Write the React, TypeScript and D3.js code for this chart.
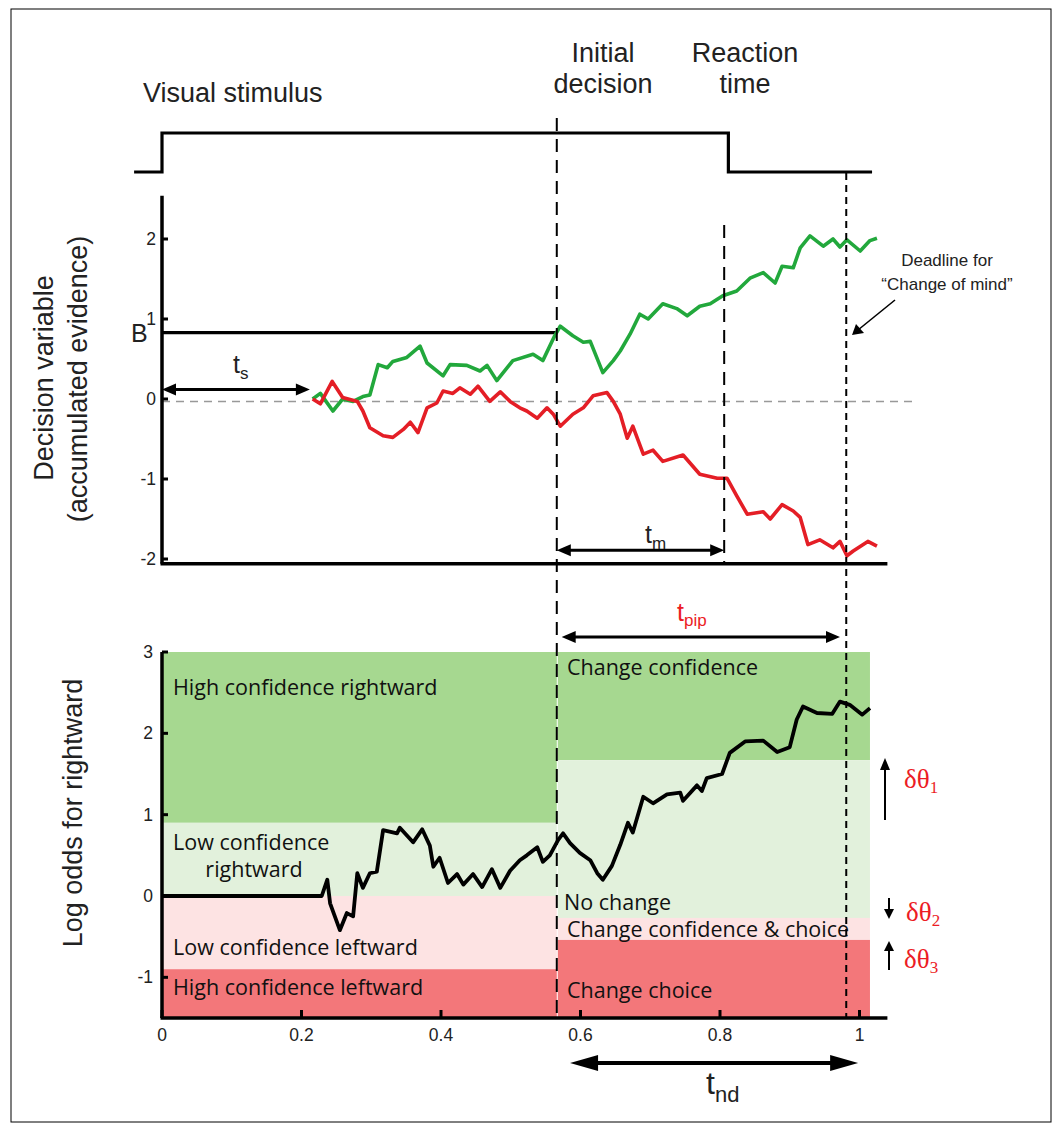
import React from "react";
import * as d3 from "d3";

// ---------- data ----------
const greenTrace: [number, number][] = [
  [0.216, 0], [0.227, 0.07], [0.245, -0.15], [0.259, 0.0], [0.274, -0.03], [0.288, 0.03], [0.298, 0.05],
  [0.31, 0.43], [0.323, 0.39], [0.331, 0.47], [0.351, 0.52], [0.37, 0.66], [0.38, 0.45], [0.403, 0.29],
  [0.413, 0.43], [0.437, 0.42], [0.456, 0.35], [0.466, 0.42], [0.48, 0.23], [0.503, 0.48], [0.532, 0.56],
  [0.546, 0.48], [0.563, 0.79], [0.571, 0.91], [0.589, 0.79], [0.604, 0.71], [0.614, 0.72], [0.632, 0.33],
  [0.647, 0.48], [0.657, 0.6], [0.671, 0.81], [0.685, 1.06], [0.697, 1.0], [0.718, 1.19], [0.738, 1.13],
  [0.753, 1.04], [0.771, 1.16], [0.786, 1.19], [0.804, 1.29], [0.824, 1.35], [0.843, 1.51], [0.862, 1.58],
  [0.879, 1.45], [0.889, 1.66], [0.905, 1.64], [0.915, 1.89], [0.929, 2.04], [0.948, 1.91], [0.962, 2.0],
  [0.972, 1.9], [0.982, 1.99], [1.001, 1.85], [1.015, 1.98], [1.025, 2.01],
];

const redTrace: [number, number][] = [
  [0.216, 0], [0.227, -0.06], [0.244, 0.22], [0.259, 0.02], [0.28, -0.03], [0.288, -0.15], [0.298, -0.36],
  [0.317, -0.46], [0.331, -0.48], [0.346, -0.38], [0.356, -0.29], [0.367, -0.42], [0.38, -0.11], [0.394, -0.05],
  [0.403, 0.1], [0.417, 0.07], [0.427, 0.14], [0.442, 0.06], [0.453, 0.16], [0.47, -0.03], [0.485, 0.09],
  [0.499, -0.03], [0.513, -0.11], [0.523, -0.15], [0.538, -0.24], [0.552, -0.11], [0.561, -0.19], [0.571, -0.34],
  [0.589, -0.19], [0.604, -0.11], [0.618, 0.04], [0.638, 0.08], [0.647, -0.03], [0.657, -0.19], [0.667, -0.49],
  [0.675, -0.34], [0.69, -0.69], [0.704, -0.64], [0.718, -0.78], [0.747, -0.7], [0.771, -0.94], [0.796, -0.99],
  [0.81, -0.99], [0.824, -1.21], [0.839, -1.44], [0.862, -1.41], [0.872, -1.5], [0.889, -1.32], [0.905, -1.4],
  [0.915, -1.48], [0.926, -1.82], [0.943, -1.76], [0.962, -1.86], [0.972, -1.78], [0.982, -1.96], [0.991, -1.9],
  [1.012, -1.78], [1.025, -1.84],
];

const logOddsTrace: [number, number][] = [
  [0, 0], [0.229, 0], [0.237, 0.2], [0.241, -0.09], [0.255, -0.42], [0.265, -0.21], [0.274, -0.25], [0.28, 0.28],
  [0.288, 0.1], [0.298, 0.28], [0.308, 0.3], [0.317, 0.81], [0.337, 0.77], [0.341, 0.84], [0.36, 0.66],
  [0.373, 0.82], [0.384, 0.62], [0.389, 0.36], [0.398, 0.47], [0.41, 0.16], [0.423, 0.27], [0.432, 0.14],
  [0.446, 0.27], [0.459, 0.11], [0.473, 0.33], [0.485, 0.1], [0.499, 0.31], [0.513, 0.44], [0.523, 0.5],
  [0.538, 0.6], [0.546, 0.42], [0.556, 0.5], [0.568, 0.69], [0.575, 0.77], [0.585, 0.65], [0.599, 0.53],
  [0.614, 0.44], [0.624, 0.28], [0.632, 0.2], [0.645, 0.37], [0.657, 0.63], [0.668, 0.9], [0.675, 0.78],
  [0.69, 1.22], [0.704, 1.14], [0.724, 1.25], [0.743, 1.27], [0.747, 1.17], [0.767, 1.36], [0.774, 1.29],
  [0.781, 1.45], [0.803, 1.5], [0.814, 1.76], [0.836, 1.9], [0.862, 1.91], [0.882, 1.77], [0.9, 1.83],
  [0.91, 2.17], [0.919, 2.33], [0.939, 2.25], [0.961, 2.24], [0.972, 2.39], [0.986, 2.35], [1.004, 2.23],
  [1.015, 2.31],
];

// stimulus trace (time, level 0/1)
const stimulus: [number, number][] = [[-0.04, 0], [0, 0], [0, 1], [0.812, 1], [0.812, 0], [1.018, 0]];

const topTicks = [-2, -1, 0, 1, 2];
const bottomYTicks = [-1, 0, 1, 2, 3];
const bottomXTicks = [0, 0.2, 0.4, 0.6, 0.8, 1];
const bottomXTickLabels = ["0", "0.2", "0.4", "0.6", "0.8", "1"];

const boundB = 0.83;
const tInitial = 0.566;
const tReaction = 0.806;
const tDeadline = 0.981;
const tEnd = 1.015;

const leftBands = [
  { lo: 0.9, hi: 3, fill: "#a6d890" },
  { lo: 0, hi: 0.9, fill: "#e2f1dc" },
  { lo: -0.9, hi: 0, fill: "#fde3e3" },
  { lo: -1.5, hi: -0.9, fill: "#f3777a" },
];
const rightBands = [
  { lo: 1.67, hi: 3, fill: "#a6d890" },
  { lo: -0.27, hi: 1.67, fill: "#e2f1dc" },
  { lo: -0.54, hi: -0.27, fill: "#fde3e3" },
  { lo: -1.5, hi: -0.54, fill: "#f3777a" },
];

const ARIAL = "'Liberation Sans', Arial, sans-serif";
const HUM = "'Open Sans', 'Noto Sans', sans-serif";
const SERIF = "'Liberation Serif', 'Times New Roman', serif";
const RED = "#ec1c24";

function DoubleArrow({ x1, x2, y, hl = 14, hw = 6, sw = 3 }: any) {
  return (
    <g>
      <line x1={x1 + hl - 1} x2={x2 - hl + 1} y1={y} y2={y} stroke="#000" strokeWidth={sw} />
      <polygon points={`${x1},${y} ${x1 + hl},${y - hw} ${x1 + hl},${y + hw}`} fill="#000" />
      <polygon points={`${x2},${y} ${x2 - hl},${y - hw} ${x2 - hl},${y + hw}`} fill="#000" />
    </g>
  );
}

export default function App() {
  const x = d3.scaleLinear().domain([0, 1]).range([162, 859.5]);
  const y1 = d3.scaleLinear().domain([-2.06, 2.54]).range([563.8, 195.8]);
  const y2 = d3.scaleLinear().domain([-1.5, 3]).range([1018, 652]);
  const yStim = d3.scaleLinear().domain([0, 1]).range([172, 133]);

  const line1 = d3.line<[number, number]>().x((d) => x(d[0])).y((d) => y1(d[1]));
  const line2 = d3.line<[number, number]>().x((d) => x(d[0])).y((d) => y2(d[1]));
  const lineS = d3.line<[number, number]>().x((d) => x(d[0])).y((d) => yStim(d[1]));

  const x0 = x(0);
  const xInit = x(tInitial);
  const xEnd = x(tEnd);

  return (
    <svg width={1060} height={1131} style={{ position: "absolute", left: 0, top: 0, background: "#fff" }}>
      <rect x={11} y={9} width={1040} height={1113} fill="none" stroke="#000" strokeWidth={1} />

      {/* ---------- header labels ---------- */}
      <text x={143} y={102} fontFamily={ARIAL} fontSize={27} fill="#222">Visual stimulus</text>
      <text x={603} y={62} fontFamily={ARIAL} fontSize={27} fill="#222" textAnchor="middle">Initial</text>
      <text x={603} y={93} fontFamily={ARIAL} fontSize={27} fill="#222" textAnchor="middle">decision</text>
      <text x={745} y={62} fontFamily={ARIAL} fontSize={27} fill="#222" textAnchor="middle">Reaction</text>
      <text x={745} y={93} fontFamily={ARIAL} fontSize={27} fill="#222" textAnchor="middle">time</text>

      {/* stimulus trace */}
      <path d={lineS(stimulus) || ""} fill="none" stroke="#000" strokeWidth={3.2} />

      {/* ---------- bottom panel bands ---------- */}
      {leftBands.map((b, i) => (
        <rect key={"l" + i} x={x0} y={y2(b.hi)} width={xInit - x0} height={y2(b.lo) - y2(b.hi)} fill={b.fill} />
      ))}
      {rightBands.map((b, i) => (
        <rect key={"r" + i} x={xInit + 1} y={y2(b.hi)} width={xEnd - xInit - 1} height={y2(b.lo) - y2(b.hi)} fill={b.fill} />
      ))}

      {/* band labels */}
      <g fontFamily={HUM} fontSize={21.5} fill="#111">
        <text x={173} y={695}>High confidence rightward</text>
        <text x={173} y={850}>Low confidence</text>
        <text x={254} y={877} textAnchor="middle">rightward</text>
        <text x={173} y={955}>Low confidence leftward</text>
        <text x={173} y={995}>High confidence leftward</text>
        <text x={567} y={675}>Change confidence</text>
        <text x={564} y={910}>No change</text>
        <text x={567} y={937}>Change confidence &amp; choice</text>
        <text x={567} y={998}>Change choice</text>
      </g>

      {/* ---------- top panel ---------- */}
      <line x1={x0} x2={x(1.08)} y1={y1(-0.03)} y2={y1(-0.03)} stroke="#999" strokeWidth={1.5} strokeDasharray="8,6" />
      <line x1={x0} x2={xInit} y1={y1(boundB)} y2={y1(boundB)} stroke="#000" strokeWidth={3.2} />
      <text x={131} y={342} fontFamily={ARIAL} fontSize={25} fill="#222">B</text>

      <path d={line1(greenTrace) || ""} fill="none" stroke="#22a83c" strokeWidth={3.6} strokeLinejoin="round" />
      <path d={line1(redTrace) || ""} fill="none" stroke="#e41e26" strokeWidth={3.6} strokeLinejoin="round" />

      <line x1={x0} x2={x0} y1={y1(2.54)} y2={y1(-2.06)} stroke="#000" strokeWidth={3.5} />
      <line x1={x0 - 1.5} x2={x(1.04)} y1={y1(-2.06)} y2={y1(-2.06)} stroke="#000" strokeWidth={3.5} />
      {topTicks.map((t) => (
        <g key={"tt" + t}>
          <line x1={x0} x2={x0 + 6} y1={y1(t)} y2={y1(t)} stroke="#000" strokeWidth={3} />
          <text x={x0 - 6} y={y1(t) + 6} fontFamily={ARIAL} fontSize={17.5} fill="#222" textAnchor="end">{t}</text>
        </g>
      ))}
      <text transform="translate(53,378) rotate(-90)" fontFamily={ARIAL} fontSize={27} fill="#222" textAnchor="middle">Decision variable</text>
      <text transform="translate(87,379) rotate(-90)" fontFamily={ARIAL} fontSize={27} fill="#222" textAnchor="middle">(accumulated evidence)</text>

      {/* t_s */}
      <DoubleArrow x1={x0} x2={x(0.212)} y={y1(0.12)} />
      <text x={233} y={373} fontFamily={ARIAL} fontSize={25} fill="#222">t<tspan fontSize={17} dy={6}>s</tspan></text>

      {/* t_m */}
      <DoubleArrow x1={xInit} x2={x(tReaction)} y={y1(-1.89)} />
      <text x={645} y={543} fontFamily={ARIAL} fontSize={25} fill="#222">t<tspan fontSize={17} dy={6}>m</tspan></text>

      {/* deadline note */}
      <text x={947} y={266} fontFamily={ARIAL} fontSize={17} fill="#222" textAnchor="middle">Deadline for</text>
      <text x={947} y={290} fontFamily={ARIAL} fontSize={17} fill="#222" textAnchor="middle">“Change of mind”</text>
      <line x1={895} y1={300} x2={858} y2={330} stroke="#000" strokeWidth={1.6} />
      <polygon points="852,335 856,324 864,333" fill="#000" />

      {/* t_pip */}
      <DoubleArrow x1={x(0.573)} x2={x(0.972)} y={637} />
      <text x={677} y={621} fontFamily={ARIAL} fontSize={25} fill={RED}>t<tspan fontSize={17} dy={5}>pip</tspan></text>

      {/* ---------- bottom panel trace & axes ---------- */}
      <path d={line2(logOddsTrace) || ""} fill="none" stroke="#000" strokeWidth={3.8} strokeLinejoin="round" />
      <line x1={x0} x2={x0} y1={y2(3)} y2={y2(-1.5)} stroke="#000" strokeWidth={3.5} />
      <line x1={x0 - 1.5} x2={x(1.04)} y1={y2(-1.5)} y2={y2(-1.5)} stroke="#000" strokeWidth={3.5} />
      {bottomYTicks.map((t) => (
        <g key={"by" + t}>
          <line x1={x0} x2={x0 + 6} y1={y2(t)} y2={y2(t)} stroke="#000" strokeWidth={3} />
          <text x={x0 - 9} y={y2(t) + 6} fontFamily={ARIAL} fontSize={17.5} fill="#222" textAnchor="end">{t}</text>
        </g>
      ))}
      {bottomXTicks.map((t, i) => (
        <g key={"bx" + t}>
          <line x1={x(t)} x2={x(t)} y1={y2(-1.5)} y2={y2(-1.5) - 8} stroke="#000" strokeWidth={3} />
          <text x={x(t)} y={1041} fontFamily={ARIAL} fontSize={17.5} fill="#222" textAnchor="middle">{bottomXTickLabels[i]}</text>
        </g>
      ))}
      <text transform="translate(82,813) rotate(-90)" fontFamily={ARIAL} fontSize={27} fill="#222" textAnchor="middle">Log odds for rightward</text>

      {/* delta thetas */}
      <line x1={885} x2={885} y1={820} y2={766} stroke="#000" strokeWidth={2} />
      <polygon points="885,758 880,770 890,770" fill="#000" />
      <text x={904} y={788} fontFamily={SERIF} fontSize={27} fill={RED}>δθ<tspan fontSize={17} dy={5}>1</tspan></text>
      <line x1={889} x2={889} y1={898} y2={912} stroke="#000" strokeWidth={2} />
      <polygon points="889,919 884,909 894,909" fill="#000" />
      <text x={906} y={921} fontFamily={SERIF} fontSize={27} fill={RED}>δθ<tspan fontSize={17} dy={5}>2</tspan></text>
      <line x1={889} x2={889} y1={970} y2={948} stroke="#000" strokeWidth={2} />
      <polygon points="889,941 884,951 894,951" fill="#000" />
      <text x={904} y={968} fontFamily={SERIF} fontSize={27} fill={RED}>δθ<tspan fontSize={17} dy={5}>3</tspan></text>

      {/* t_nd */}
      <DoubleArrow x1={x(0.585)} x2={x(0.998)} y={1063} hl={28} hw={8} sw={4} />
      <text x={706} y={1094} fontFamily={ARIAL} fontSize={32} fill="#222">t<tspan fontSize={22} dy={8}>nd</tspan></text>

      {/* ---------- vertical dashed event lines ---------- */}
      <line x1={xInit} x2={xInit} y1={118} y2={1018} stroke="#000" strokeWidth={2} strokeDasharray="13,8" />
      <line x1={x(tReaction)} x2={x(tReaction)} y1={225} y2={563} stroke="#000" strokeWidth={2} strokeDasharray="13,8" />
      <line x1={x(tDeadline)} x2={x(tDeadline)} y1={173} y2={1018} stroke="#000" strokeWidth={2} strokeDasharray="7,5" />
    </svg>
  );
}
